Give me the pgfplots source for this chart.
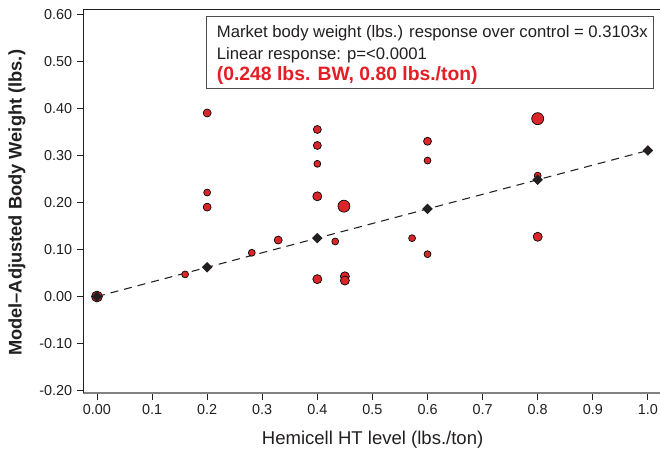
\documentclass[border=0pt]{standalone}
\usepackage{fontspec}
\setmainfont{Liberation Sans}
\usepackage{pgfplots}
\pgfplotsset{compat=1.18}
\definecolor{ptred}{RGB}{218,37,41}
\definecolor{txtred}{RGB}{227,30,36}
\definecolor{axgray}{RGB}{130,130,130}
\definecolor{txt}{RGB}{35,31,32}

\begin{document}
\begin{tikzpicture}
\begin{axis}[
  scale only axis, width=432.4pt, height=288pt,
  xmin=-0.0245, xmax=1.022, ymin=-0.205, ymax=0.611,
  clip=false,
  axis x line*=bottom, axis y line*=left,
  x axis line style={draw=axgray, line width=0.9pt},
  y axis line style={draw=txt, line width=0.75pt},
  tick align=outside, major tick length=5pt,
  tick style={line width=0.6pt, txt},
  xtick={0,0.1,0.2,0.3,0.4,0.5,0.6,0.7,0.8,0.9,1.0},
  xticklabels={0.00,0.1,0.2,0.3,0.4,0.5,0.6,0.7,0.8,0.9,1.0},
  ytick={-0.2,-0.1,0,0.1,0.2,0.3,0.4,0.5,0.6},
  yticklabels={-0.20,-0.10,0.00,0.10,0.20,0.30,0.40,0.50,0.60},
  ticklabel style={font=\fontsize{10.8}{13}\selectfont, text=txt},
  xlabel={Hemicell HT level (lbs./ton)},
  ylabel={\bfseries Model–Adjusted Body Weight (lbs.)},
  xlabel style={at={(axis description cs:0.5015,-0.1224)}, anchor=center,
    font=\fontsize{13.9}{16}\selectfont, text=txt},
  ylabel style={at={(axis description cs:-0.1153,0.495)}, anchor=center,
    font=\fontsize{13.7}{16}\selectfont, text=txt},
]
% top frame line
\draw[txt, line width=0.75pt] (rel axis cs:0,1) -- (rel axis cs:1,1);

% small points
\addplot[only marks, mark=*, mark size=2.6pt,
  mark options={fill=ptred, draw=black, line width=0.5pt}] coordinates {
  (0.16,0.047) (0.2,0.221) (0.281,0.093) (0.4,0.282) (0.4325,0.117)
  (0.572,0.124) (0.6,0.289) (0.6,0.090) (0.8,0.257)
};
% medium points
\addplot[only marks, mark=*, mark size=3.0pt,
  mark options={fill=ptred, draw=black, line width=0.5pt}] coordinates {
  (0.2,0.390) (0.2,0.190) (0.329,0.120) (0.4,0.355) (0.4,0.321) (0.6,0.330)
};
\addplot[only marks, mark=*, mark size=3.4pt,
  mark options={fill=ptred, draw=black, line width=0.5pt}] coordinates {
  (0.4,0.213) (0.4,0.037) (0.45,0.043) (0.45,0.034) (0.8,0.127)
};
% large points
\addplot[only marks, mark=*, mark size=4.5pt,
  mark options={fill=ptred, draw=black, line width=0.5pt}] coordinates {
  (0.4483,0.192) (0.8,0.378)
};
\addplot[only marks, mark=*, mark size=4.1pt,
  mark options={fill=ptred, draw=black, line width=0.5pt}] coordinates {
  (0,0)
};

% linear response
\addplot[txt, line width=0.8pt, dash pattern=on 6pt off 4.5pt,
  mark=square*, mark size=2.4pt,
  mark options={rotate=45, solid, fill=txt}] coordinates {
  (0,0) (0.2,0.0621) (0.4,0.1241) (0.6,0.1862) (0.8,0.2482) (1.0,0.3103)
};

% annotation box
\draw[draw=black!70, line width=0.75pt, fill=white]
  (rel axis cs:0.2137,0.7935) rectangle (rel axis cs:0.9884,0.980);
\node[anchor=base west, inner sep=0pt, text=txt, font=\fontsize{12.5}{15}\selectfont]
  at (rel axis cs:0.231,0.925) {Market body weight (lbs.) response over control = 0.3103x};
\node[anchor=base west, inner sep=0pt, text=txt, font=\fontsize{12.5}{15}\selectfont]
  at (rel axis cs:0.231,0.869) {Linear response: p=<0.0001};
\node[anchor=base west, inner sep=0pt, text=txtred, font=\bfseries\fontsize{14.5}{17}\selectfont]
  at (rel axis cs:0.231,0.815) {(0.248 lbs. BW, 0.80 lbs./ton)};
\end{axis}
\pgfresetboundingbox
\path[use as bounding box] (-62.6pt,-46.5pt) rectangle (432.4pt,294.75pt);
\end{tikzpicture}
\end{document}
